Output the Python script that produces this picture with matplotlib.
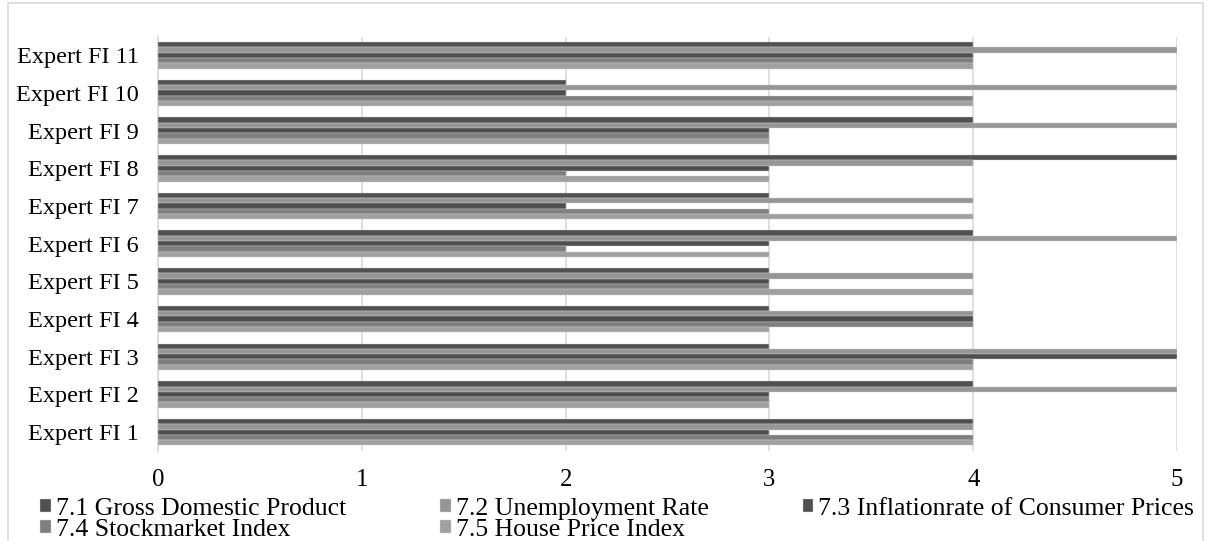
import numpy as np
import matplotlib
matplotlib.use('Agg')
import matplotlib.pyplot as plt
from matplotlib.patches import Rectangle

# experts, bottom to top as drawn
experts = ['Expert FI 1', 'Expert FI 2', 'Expert FI 3', 'Expert FI 4', 'Expert FI 5', 'Expert FI 6',
           'Expert FI 7', 'Expert FI 8', 'Expert FI 9', 'Expert FI 10', 'Expert FI 11']

gdp = [4, 4, 3, 3, 3, 4, 3, 5, 4, 2, 4]
unemployment = [4, 5, 5, 4, 4, 5, 4, 4, 5, 5, 5]
inflation = [3, 3, 5, 4, 3, 3, 2, 3, 3, 2, 4]
stockmarket = [4, 3, 4, 4, 3, 2, 3, 2, 3, 4, 4]
house_price = [4, 3, 4, 3, 4, 3, 4, 3, 3, 4, 4]

series_names = ['7.1 Gross Domestic Product', '7.2 Unemployment Rate', '7.3 Inflationrate of Consumer Prices',
                '7.4 Stockmarket Index', '7.5 House Price Index']
series_values = [gdp, unemployment, inflation, stockmarket, house_price]
colors = ['#505050', '#969696', '#4f4f4f', '#7f7f7f', '#a0a0a0']

plt.rcParams['font.family'] = ['Liberation Serif', 'DejaVu Serif']

fig = plt.figure(figsize=(12.08, 5.41), dpi=100)
ax = fig.add_axes([158 / 1208, 1 - 451 / 541, (1177 - 158) / 1208, (451 - 36.5) / 541])

y = np.arange(len(experts))
bar_h = 0.141
handles = []
for i, (name, vals) in enumerate(zip(series_names, series_values)):
    # first series on top of each group
    offset = (2 - i) * bar_h
    b = ax.barh(y + offset, vals, height=bar_h, color=colors[i], edgecolor='#cfcfcf',
                linewidth=0.3, label=name, zorder=3)
    handles.append(b)

ax.set_xlim(0, 5)
ax.set_ylim(-0.5, len(experts) - 0.5)
ax.set_yticks(y)
ax.set_yticklabels(experts, fontsize=17.5)
ax.set_xticks(range(6))
ax.tick_params(axis='x', labelsize=17.8, length=0, pad=13)
ax.tick_params(axis='y', length=0, pad=14)
ax.grid(axis='x', color='#d9d9d9', linewidth=1.2, zorder=0)
for s in ['top', 'right', 'bottom']:
    ax.spines[s].set_visible(False)
ax.spines['left'].set_color('#d9d9d9')
ax.spines['left'].set_linewidth(1.2)

# legend row-major: reorder for column filling
order = [0, 3, 1, 4, 2]
leg = fig.legend([handles[k] for k in order], [series_names[k] for k in order],
                 loc='upper left', bbox_to_anchor=(40 / 1208, 1 - 498 / 541), ncol=3,
                 frameon=False, fontsize=18.5, handlelength=0.42, handleheight=0.42,
                 handletextpad=0.2, columnspacing=3.65, labelspacing=-0.05, borderpad=0,
                 borderaxespad=0)

# chart area border
fig.patches.append(Rectangle((8 / 1208, -0.05), (1203 - 8) / 1208, 1.05 - 3 / 541,
                             transform=fig.transFigure, fill=False, edgecolor='#d9d9d9',
                             linewidth=1.2))

fig.savefig('out.png', dpi=100)
